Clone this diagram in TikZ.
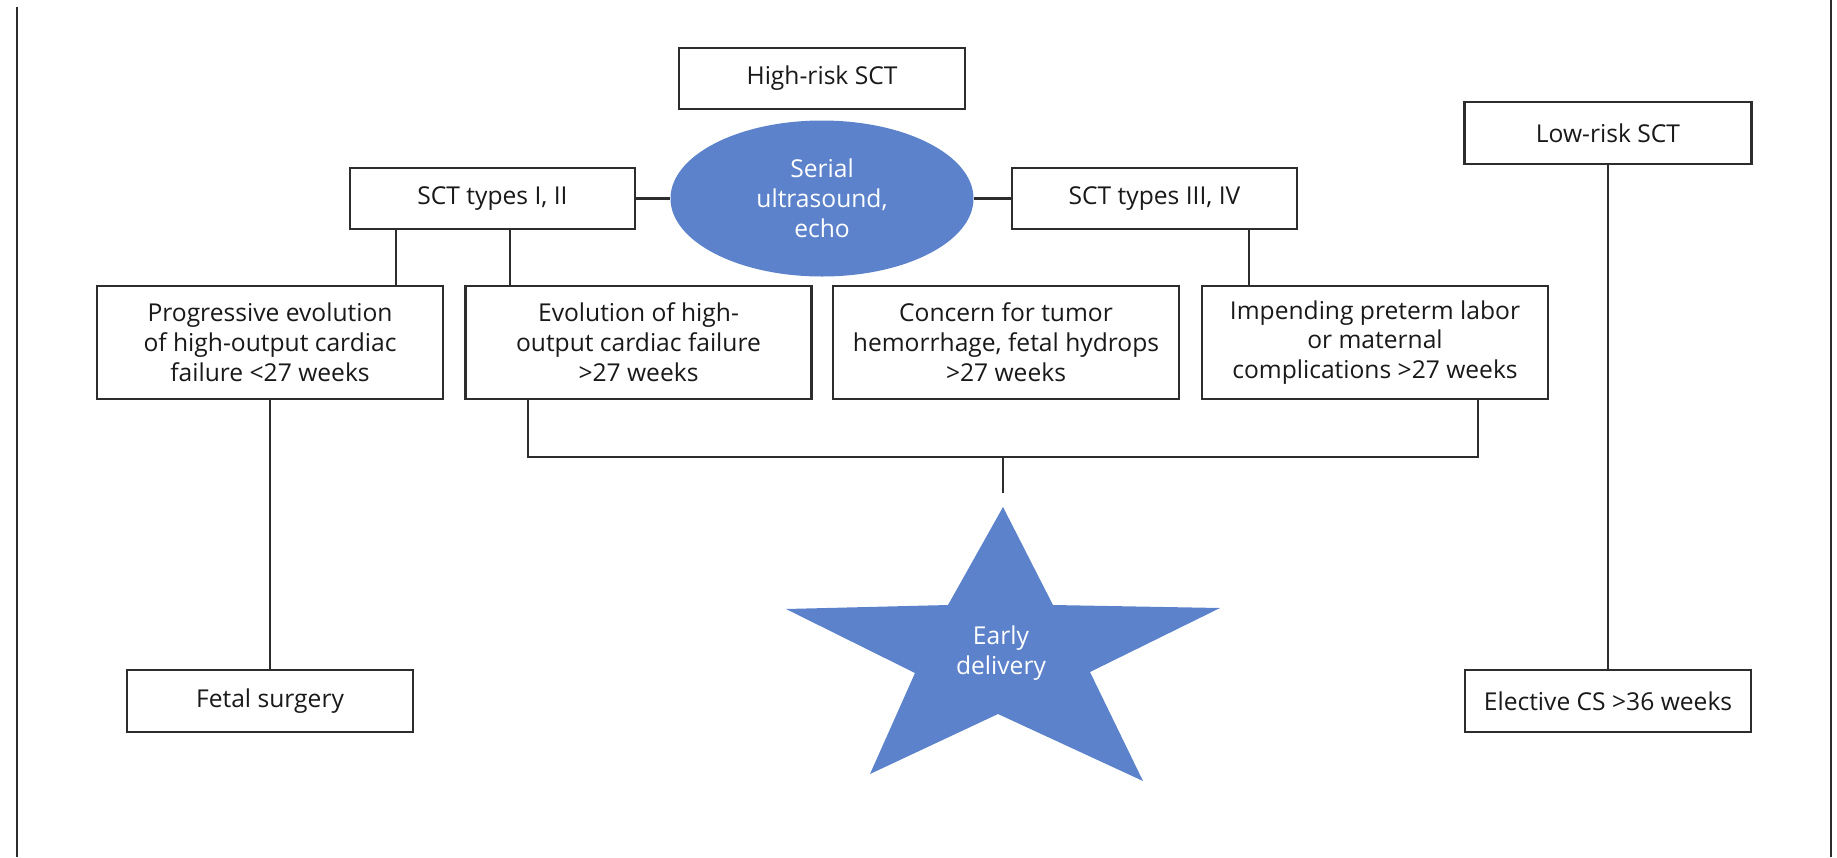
\documentclass[tikz,border=0pt]{standalone}
\usepackage{fontspec}
\setmainfont{Open Sans}
\usetikzlibrary{shapes.geometric}

\definecolor{sctblue}{RGB}{92,130,204}
\definecolor{inkgray}{RGB}{45,45,45}

\begin{document}
\begin{tikzpicture}[
    box/.style={rectangle, draw=inkgray, line width=1.4pt, fill=white, text=black!90,
                align=center, inner sep=0pt, minimum width=5.72cm, minimum height=1.22cm,
                font=\fontsize{14}{17}\selectfont},
    bigbox/.style={box, minimum width=6.92cm, minimum height=2.26cm},
    link/.style={draw=inkgray, line width=1.15pt},
    bluetext/.style={text=white, align=center, font=\fontsize{14}{17}\selectfont}
  ]

  \useasboundingbox (0,0) rectangle (36.74,-17.14);

  % Page rules on both sides
  \draw[link] (0.34,-0.14) -- (0.34,-17.14);
  \draw[link] (36.62,0) -- (36.62,-17.14);

  % Top row
  \node (high) [box] at (16.44,-1.57) {High-risk SCT};
  \node (low) [box, minimum width=5.74cm, minimum height=1.24cm] at (32.16,-2.66) {Low-risk SCT};

  % Monitoring and tumour types
  \node (serial) [ellipse, fill=sctblue, minimum width=6.06cm, minimum height=3.12cm,
                  inner sep=0pt, bluetext] at (16.44,-3.97) {Serial\\ultrasound,\\echo};
  \node (sct12) [box, minimum width=5.70cm] at (9.85,-3.97) {SCT types I, II};
  \node (sct34) [box, minimum width=5.70cm] at (23.09,-3.97) {SCT types III, IV};

  % Indications
  \node (prog) [bigbox] at (5.40,-6.85) {Progressive evolution\\of high-output cardiac\\failure <27 weeks};
  \node (evol) [bigbox] at (12.77,-6.85) {Evolution of high-\\output cardiac failure\\>27 weeks};
  \node (concern) [bigbox] at (20.12,-6.85) {Concern for tumor\\hemorrhage, fetal hydrops\\>27 weeks};
  \node (imp) [bigbox] at (27.50,-6.85) {Impending preterm labor\\or maternal\\complications >27 weeks};

  % Outcomes
  \node (fetal) [box, minimum height=1.24cm] at (5.40,-14.02) {Fetal surgery};
  \node (elective) [box, minimum height=1.24cm] at (32.16,-14.02) {Elective CS >36 weeks};

  % Star for early delivery
  \fill[sctblue] (20.06,-10.14) -- (21.06,-12.10) -- (24.40,-12.16) -- (21.80,-13.44)
    -- (22.86,-15.62) -- (19.96,-14.28) -- (17.40,-15.48) -- (18.30,-13.46)
    -- (15.72,-12.18) -- (18.96,-12.10) -- cycle;
  \coordinate (startop) at (20.06,-10.14);
  \node (early) [bluetext] at (20.02,-13.06) {Early\\delivery};

  % Connections
  \draw[link] (sct12.east) -- (serial.west);
  \draw[link] (serial.east) -- (sct34.west);
  \draw[link] ([xshift=-1.93cm]sct12.south) coordinate (d1) -- (d1 |- prog.north);
  \draw[link] ([xshift=0.35cm]sct12.south) coordinate (d2) -- (d2 |- evol.north);
  \draw[link] ([xshift=1.89cm]sct34.south) coordinate (d3) -- (d3 |- imp.north);
  \draw[link] (prog) -- (fetal);
  \draw[link] (low) -- (elective);

  % Bus into early delivery
  \coordinate (bus) at (20.06,-9.14);
  \draw[link] ([xshift=-2.21cm]evol.south) |- (bus) -| ([xshift=2.06cm]imp.south);
  \draw[link] (bus) -- ([yshift=0.28cm]startop);

\end{tikzpicture}
\end{document}
